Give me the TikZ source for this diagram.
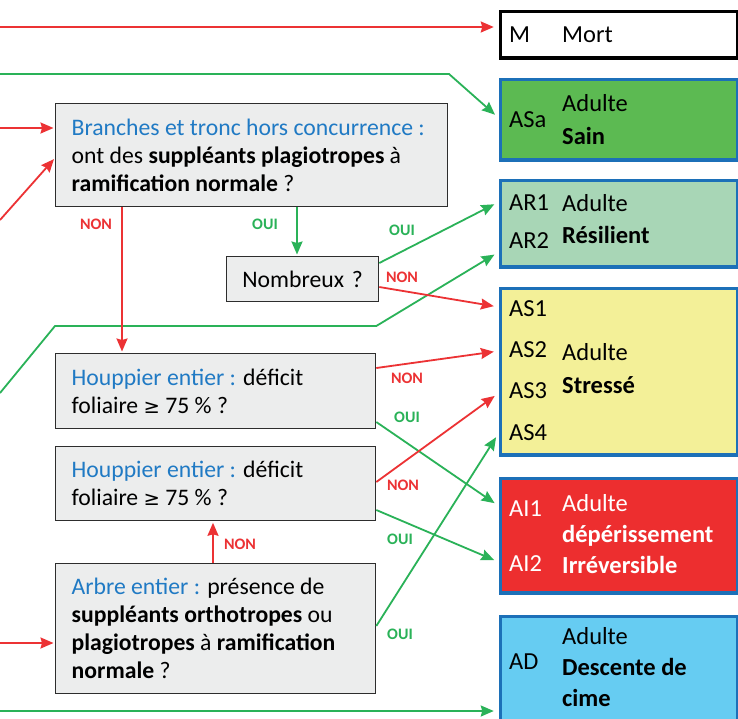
\documentclass[tikz,border=0pt]{standalone}
\usepackage{fontspec}
\setmainfont{Carlito}
\newfontfamily\symfont{DejaVu Sans}
\usepackage{tikz}
\usetikzlibrary{positioning,arrows.meta}
\usepackage{xcolor}
\definecolor{sblue}{RGB}{28,112,184}
\definecolor{qblue}{RGB}{32,122,196}
\definecolor{qgray}{RGB}{236,237,237}
\definecolor{qline}{RGB}{45,45,45}
\definecolor{lred}{RGB}{236,50,52}
\definecolor{lgreen}{RGB}{42,178,88}
\definecolor{asagreen}{RGB}{92,186,82}
\definecolor{argreen}{RGB}{168,214,182}
\definecolor{asyellow}{RGB}{243,240,152}
\definecolor{aired}{RGB}{237,46,47}
\definecolor{adblue}{RGB}{102,204,242}
\newcommand\geqsym{{\symfont\fontsize{19.5}{28}\selectfont ≥}}

\begin{document}
\begin{tikzpicture}[
    x=1pt, y=-1pt, >={Stealth[length=13pt,width=11pt,inset=1.5pt]},
    qbox/.style={draw=qline, fill=qgray, line width=1.3pt, anchor=north west,
      inner xsep=16pt, inner ysep=0pt, align=flush left,
      font=\fontsize{23.7}{28}\selectfont},
    stbox/.style={draw=sblue, line width=3.5pt, anchor=north west,
      minimum width=237pt, inner sep=0pt},
    stcode/.style={anchor=west, inner sep=0pt, font=\fontsize{24.5}{32}\selectfont},
    stdesc/.style={anchor=west, inner sep=0pt, align=left, font=\fontsize{24.5}{32}\selectfont},
    redarr/.style={->, draw=lred, line width=1.8pt},
    grnarr/.style={->, draw=lgreen, line width=1.8pt},
    toright/.style={shorten >=5pt},
    toleft/.style={shorten >=1.5pt},
    nonlbl/.style={text=lred, inner sep=0pt, font=\bfseries\fontsize{16}{16}\selectfont},
    ouilbl/.style={text=lgreen, inner sep=0pt, font=\bfseries\fontsize{16}{16}\selectfont}]
  \path[use as bounding box, fill=white] (0,0) rectangle (738,718);

  % questions
  \node[qbox, text width=360pt, minimum height=103pt] (q1) at (55,103)
    {\mbox{\textcolor{qblue}{Branches et tronc hors concurrence :}}\\
     \mbox{ont des \textbf{suppléants plagiotropes} à}\\
     \textbf{ramification normale} ?};
  \node[qbox, inner xsep=6pt, text width=140pt, minimum height=45pt, align=center] (nomb) at (226,256)
    {\mbox{Nombreux ?}};
  \node[qbox, text width=288pt, minimum height=75pt] (h1) at (55,353)
    {\textcolor{qblue}{Houppier entier :} déficit\\ foliaire \geqsym{} 75 \% ?};
  \node[qbox, text width=288pt, minimum height=74pt] (h2) at (55,446)
    {\textcolor{qblue}{Houppier entier :} déficit\\ foliaire \geqsym{} 75 \% ?};
  \node[qbox, text width=288pt, minimum height=130pt] (arbre) at (55,563)
    {\textcolor{qblue}{Arbre entier :} présence de\\
     \mbox{\textbf{suppléants orthotropes} ou}\\
     \mbox{\textbf{plagiotropes} à \textbf{ramification}}\\
     \textbf{normale} ?};

  % etats
  \node[stbox, draw=black, fill=white, minimum height=46.5pt] (mort) at (498.75,9.75) {};
  \node[stbox, fill=asagreen, minimum height=80.5pt] (asa) at (498.75,77.75) {};
  \node[stbox, fill=argreen, minimum height=86.5pt] (ar) at (498.75,178.75) {};
  \node[stbox, fill=asyellow, minimum height=166.5pt] (as) at (498.75,286.75) {};
  \node[stbox, fill=aired, minimum height=114.5pt] (ai) at (498.75,476.75) {};
  \node[stbox, fill=adblue, minimum height=112pt] (ad) at (498.75,614.75) {};

  \node[stcode] (mortcode) at (509,35) {M};
  \node[stdesc] (morttxt) at (562,35) {Mort};
  \node[stcode] (asacode) at (509,120) {ASa};
  \node[stdesc, font=\fontsize{24.5}{33}\selectfont] (asatxt) at (562,119.5) {Adulte\\\textbf{Sain}};
  \node[stcode] (ar1) at (509,203) {AR1};
  \node[stcode] (ar2) at (509,241) {AR2};
  \node[stdesc] (artxt) at (562,219) {Adulte\\\textbf{Résilient}};
  \node[stcode] (as1) at (509,309) {AS1};
  \node[stcode] (as2) at (509,350) {AS2};
  \node[stcode] (as3) at (509,391) {AS3};
  \node[stcode] (as4) at (509,433) {AS4};
  \node[stdesc, font=\fontsize{24.5}{33}\selectfont] (astxt) at (562,368.5) {Adulte\\\textbf{Stressé}};
  \node[stcode, text=white] (ai1) at (509,509) {AI1};
  \node[stcode, text=white] (ai2) at (509,564) {AI2};
  \node[stdesc, text=white, font=\fontsize{24.5}{31}\selectfont] (aitxt) at (562,534)
    {Adulte\\\textbf{dépérissement}\\\textbf{Irréversible}};
  \node[stcode] (adcode) at (509,662) {AD};
  \node[stdesc, font=\fontsize{24.5}{31}\selectfont] (adtxt) at (562,667)
    {Adulte\\\textbf{Descente de}\\\textbf{cime}};

  % entrees depuis la gauche
  \coordinate (inM) at (0,27);
  \coordinate (inASa) at (0,74);
  \coordinate (inQa) at (0,128);
  \coordinate (inQb) at (0,220);
  \coordinate (inAR) at (0,393);
  \coordinate (inArbre) at (0,643);
  \coordinate (inAD) at (0,711);

  \draw[redarr, toright] (inM) -- (mort.west |- inM);
  \draw[grnarr, toright] (inASa) -- (449,74) -- (asa.west |- 0,118);
  \draw[redarr, toleft] (inQa) -- (q1.west |- inQa);
  \draw[redarr, toleft] (inQb) -- (q1.west |- 0,158);
  \draw[grnarr, toright] (inAR) -- ([yshift=27pt]h1.north west)
    -- ([yshift=27pt]h1.north east) -- (ar.west |- 0,252);
  \draw[redarr, toleft] (inArbre) -- (arbre.west |- inArbre);
  \draw[grnarr, toright] (inAD) -- (ad.west |- inAD);

  % branches
  \draw[redarr, toleft] (q1.south -| 122,0) -- (h1.north -| 122,0);
  \node[nonlbl] (q1non) at (96,224) {NON};
  \draw[grnarr, toleft] (q1.south -| 297,0) -- (nomb.north -| 297,0);
  \node[ouilbl] (q1oui) at (265,224) {OUI};

  \draw[grnarr, toright] (nomb.east |- 0,263) -- (ar.west |- 0,202);
  \node[ouilbl] (nomboui) at (402,230) {OUI};
  \draw[redarr, toright] (nomb.east |- 0,287) -- (as.west |- 0,307);
  \node[nonlbl] (nombnon) at (402,277) {NON};

  \draw[redarr, toright] (h1.east |- 0,368) -- (as.west |- 0,351);
  \node[nonlbl] (h1non) at (407,378) {NON};
  \draw[grnarr, toright] (h1.east |- 0,422) -- (ai.west |- 0,506);
  \node[ouilbl] (h1oui) at (407,417) {OUI};

  \draw[redarr, toright] (h2.east |- 0,482) -- (as.west |- 0,393);
  \node[nonlbl] (h2non) at (403,485) {NON};
  \draw[grnarr, toright] (h2.east |- 0,510) -- (ai.west |- 0,562);
  \node[ouilbl] (h2oui) at (400,539) {OUI};

  \draw[redarr, toleft] (arbre.north -| 213,0) -- (h2.south -| 213,0);
  \node[nonlbl] (arbrenon) at (240,544) {NON};
  \draw[grnarr, toright] (arbre.east |- 0,626) -- (as.west |- 0,433);
  \node[ouilbl] (arbreoui) at (400,634) {OUI};
\end{tikzpicture}
\end{document}
